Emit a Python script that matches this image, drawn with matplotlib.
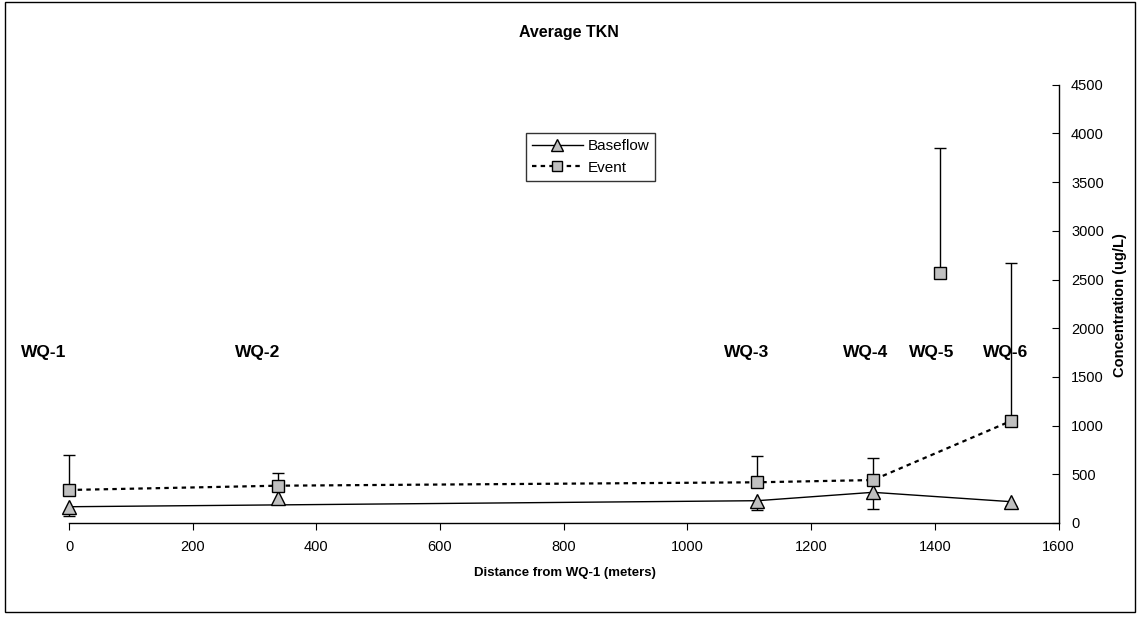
import numpy as np
import matplotlib
matplotlib.use("Agg")
import matplotlib.pyplot as plt
from matplotlib.lines import Line2D
from matplotlib.patches import Rectangle

plt.rcParams['font.family'] = ['Liberation Sans', 'DejaVu Sans']

# station data
stations = ['WQ-1', 'WQ-2', 'WQ-3', 'WQ-4', 'WQ-5', 'WQ-6']
distance = np.array([0, 338, 1113, 1300, 1409, 1523])
baseflow = np.array([167, 253, 229, 315, np.nan, 219])
baseflow_err_low = np.array([100, np.nan, 96, 171, np.nan, 40])
event = np.array([339, 383, 418, 441, 2567, 1047])
event_err_high = np.array([359, 127, 270, 223, 1283, 1619])
# which points the connecting line runs through
baseflow_joined = np.array([True, False, True, True, False, True])
event_joined = np.array([True, True, True, True, False, True])

# station label placement (figure pixels)
label_px = [44, 258, 747, 866, 932, 1006]
label_py = 352

W, H = 1138, 617
fig = plt.figure(figsize=(W / 100, H / 100), dpi=100)
ax = fig.add_axes([69 / W, 1 - 523 / H, (1058.5 - 69) / W, (523 - 84.7) / H])

grey = '#c0c0c0'

# one-sided error bars: baseflow minus, event plus
b_low = baseflow - baseflow_err_low
e_high = event + event_err_high
ax.vlines(distance, b_low, baseflow, color='black', lw=1, zorder=2, clip_on=False)
ax.plot(distance, b_low, linestyle='none', marker='_', ms=8, mew=1, color='black', zorder=2, clip_on=False)
ax.vlines(distance, event, e_high, color='black', lw=1, zorder=2, clip_on=False)
ax.plot(distance, e_high, linestyle='none', marker='_', ms=8, mew=1, color='black', zorder=2, clip_on=False)

# lines
ax.plot(distance[baseflow_joined], baseflow[baseflow_joined], color='black', lw=1, zorder=1)
ax.plot(distance[event_joined], event[event_joined], color='black', lw=1.6,
        linestyle=(0, (2.0, 1.9)), zorder=1)

# markers
ax.plot(distance, baseflow, linestyle='none', marker='^', ms=9.5, mfc=grey, mec='black', mew=1,
        zorder=3, clip_on=False)
ax.plot(distance, event, linestyle='none', marker='s', ms=8.5, mfc=grey, mec='black', mew=1,
        zorder=3, clip_on=False)

ax.set_xlim(0, 1600)
ax.set_ylim(0, 4500)
ax.set_xticks(np.arange(0, 1601, 200))
ax.set_yticks(np.arange(0, 4501, 500))

ax.spines['left'].set_visible(False)
ax.spines['top'].set_visible(False)
ax.spines['right'].set_linewidth(1)
ax.spines['bottom'].set_linewidth(1)
ax.yaxis.tick_right()
ax.tick_params(axis='y', direction='in', length=5, pad=9, labelsize=10.5)
ax.tick_params(axis='x', direction='out', length=5, pad=7, labelsize=10.5)
ax.patch.set_visible(False)

handles = [
    Line2D([], [], color='black', lw=1, marker='^', ms=9, mfc=grey, mec='black'),
    Line2D([], [], color='black', lw=1.6, linestyle=(0, (2.0, 1.9)), marker='s', ms=7.5, mfc=grey, mec='black'),
]
leg = ax.legend(handles, ['Baseflow', 'Event'], loc='upper left', bbox_to_anchor=(0.462, 0.89),
                fontsize=11, frameon=True, fancybox=False, handlelength=3.3,
                borderpad=0.4, labelspacing=0.5, handletextpad=0.3, borderaxespad=0)
leg.get_frame().set_edgecolor('black')
leg.get_frame().set_linewidth(1)

# titles and labels
fig.text(569 / W, 1 - 32 / H, 'Average TKN', ha='center', va='center', weight='bold', size=11.5)
fig.text(565 / W, 1 - 573 / H, 'Distance from WQ-1 (meters)', ha='center', va='center', weight='bold', size=9.5)
fig.text(1120 / W, 1 - 305 / H, 'Concentration (ug/L)', ha='center', va='center', weight='bold',
         size=10.5, rotation=90)

for name, px in zip(stations, label_px):
    fig.text(px / W, 1 - label_py / H, name, ha='center', va='center', weight='bold', size=12.5)

# outer chart border
fig.add_artist(Rectangle((5 / W, 1 - 612 / H), (1135 - 5) / W, (612 - 2) / H,
                         transform=fig.transFigure, fill=False, edgecolor='black', lw=1))

fig.savefig('out.png', dpi=100)
